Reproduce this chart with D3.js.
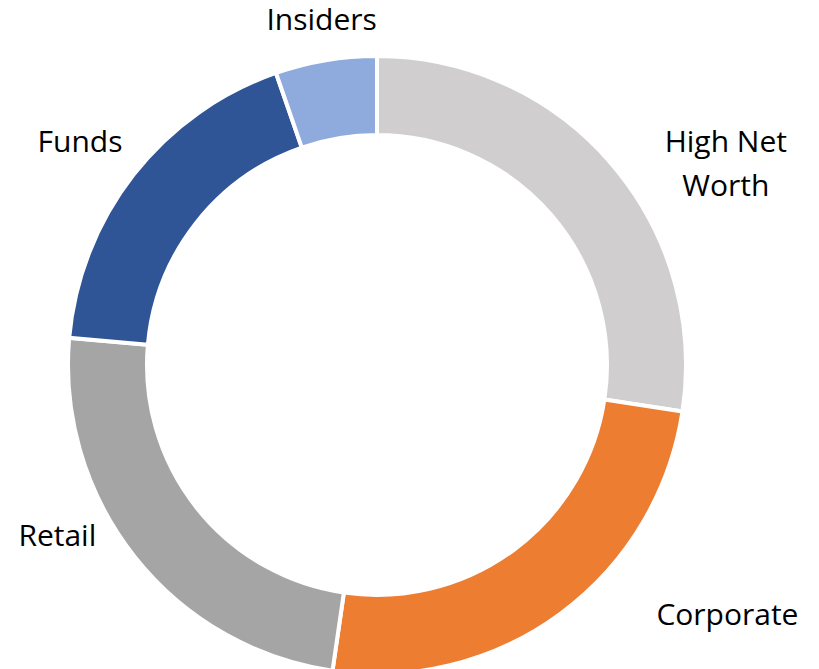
<!DOCTYPE html>
<html>
<head>
<meta charset="utf-8">
<script src="https://cdn.jsdelivr.net/npm/d3@7"></script>
<style>
  body { margin: 0; background: #fff; }
  svg { display: block; }
  .label { font-family: "Open Sans", Lato, sans-serif; font-size: 30px; fill: #000; }
</style>
</head>
<body>
<svg id="chart" width="819" height="669"></svg>
<script>
// Shareholder breakdown (percent of shares)
const categories = ['High Net Worth', 'Corporate', 'Retail', 'Funds', 'Insiders'];
const shares = [27.4, 24.9, 24.1, 18.3, 5.3];
const colors = ['#D0CECE', '#ED7D31', '#A5A5A5', '#2F5597', '#8FAADC'];

const width = 819, height = 669;
const cx = 377, cy = 365;
const outerR = 309, innerR = 230;
const labelR = 340;

// nudges from the label ring point, Excel puts them a bit oddly
const labelLayout = {
    'High Net Worth': { dx: 91, dy: 9, lines: ['High Net', 'Worth'] },
    'Corporate': { dx: 148, dy: -13 },
    'Retail': { dx: -53, dy: -30 },
    'Funds': { dx: -29, dy: -4 },
    'Insiders': { dx: 1, dy: 0 },
};

const svg = d3.select('#chart');
const g = svg.append('g').attr('transform', `translate(${cx},${cy})`);

const data = categories.map((c, i) => ({ name: c, value: shares[i], color: colors[i] }));

const pie = d3.pie().sort(null).value((d) => d.value);
const arc = d3.arc().innerRadius(innerR).outerRadius(outerR);

const arcs = pie(data);

g.selectAll('path.slice')
  .data(arcs)
  .join('path')
  .attr('class', 'slice')
  .attr('d', arc)
  .attr('fill', (d) => d.data.color)
  .attr('stroke', '#fff')
  .attr('stroke-width', 4)
  .attr('stroke-linejoin', 'miter');

// Labels outside the ring
arcs.forEach((d) => {
    const a = (d.startAngle + d.endAngle) / 2;
    const lay = labelLayout[d.data.name];
    const x = Math.sin(a) * labelR + lay.dx;
    const y = -Math.cos(a) * labelR + lay.dy;
    const lines = lay.lines || [d.data.name];
    const t = g.append('text')
      .attr('class', 'label')
      .attr('text-anchor', 'middle')
      .attr('x', x)
      .attr('y', y);
    lines.forEach((ln, i) => {
        t.append('tspan')
          .attr('x', x)
          .attr('dy', i === 0 ? 0 : 44)
          .text(ln);
    });
});
</script>
</body>
</html>
